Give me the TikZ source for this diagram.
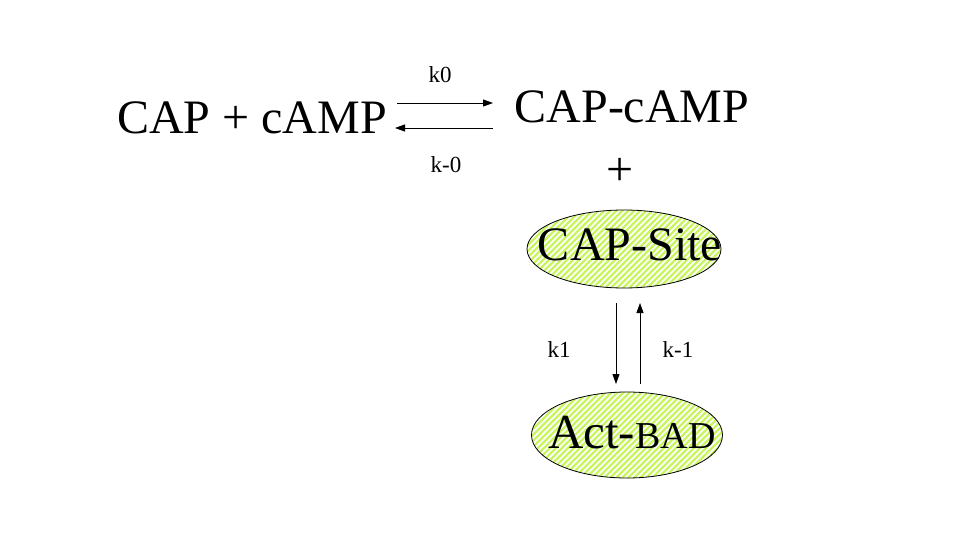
\documentclass[tikz,border=0pt]{standalone}
\usepackage{fontspec}
\setmainfont{Liberation Serif}
\usetikzlibrary{shapes.geometric,arrows.meta}
\definecolor{stripe}{HTML}{C8F560}
\tikzset{
  big/.style={font=\fontsize{48}{56}\selectfont, inner sep=0pt},
  small/.style={font=\fontsize{23}{27}\selectfont, inner sep=0pt},
  blob/.style={ellipse, draw=black, line width=0.8pt, fill=white, inner sep=0pt,
    path picture={
      \foreach \i in {-260,-254,...,260}
        \draw[stripe, line width=2.3pt]
          ([shift={(\i pt,-130pt)}]path picture bounding box.center) -- ++(260pt,260pt);
    }},
  rxn/.style={line width=0.9pt, -{Triangle[length=10pt,width=7pt]}}
}
\begin{document}
\begin{tikzpicture}[x=1pt,y=-1pt]
\useasboundingbox[fill=white] (0,0) rectangle (959,559);
\node[big, anchor=base] (lhs) at (252,134) {CAP + cAMP};
\node[big, anchor=base] (cplx) at (632,123) {CAP-cAMP};
\node[big] (plus) at (620,172) {+};
\coordinate (a1s) at (397,103);
\coordinate (a1e) at (493,103);
\coordinate (a2s) at (493,128);
\coordinate (a2e) at (395,128);
\draw[rxn] (a1s) -- (a1e);
\draw[rxn] (a2s) -- (a2e);
\node[small, anchor=base] (k0) at (440,83) {k0};
\node[small, anchor=base] (km0) at (446,172) {k-0};
\node[blob, minimum width=194pt, minimum height=78pt] (site) at (624,249) {};
\node[big, anchor=base] (sitetxt) at (630,260) {CAP-Site};
\node[blob, minimum width=191pt, minimum height=86pt] (act) at (627,435) {};
\node[anchor=base west, inner sep=0pt] (acttxt) at (548,448)
  {\fontsize{49}{56}\selectfont Act-\fontsize{38}{46}\selectfont BAD};
\coordinate (d1s) at (616,303);
\coordinate (d1e) at (616,384);
\coordinate (u1s) at (640,384);
\coordinate (u1e) at (640,303);
\draw[rxn] (d1s) -- (d1e);
\draw[rxn] (u1s) -- (u1e);
\node[small, anchor=base] (k1) at (559,357) {k1};
\node[small, anchor=base] (km1) at (678,357) {k-1};
\end{tikzpicture}
\end{document}
